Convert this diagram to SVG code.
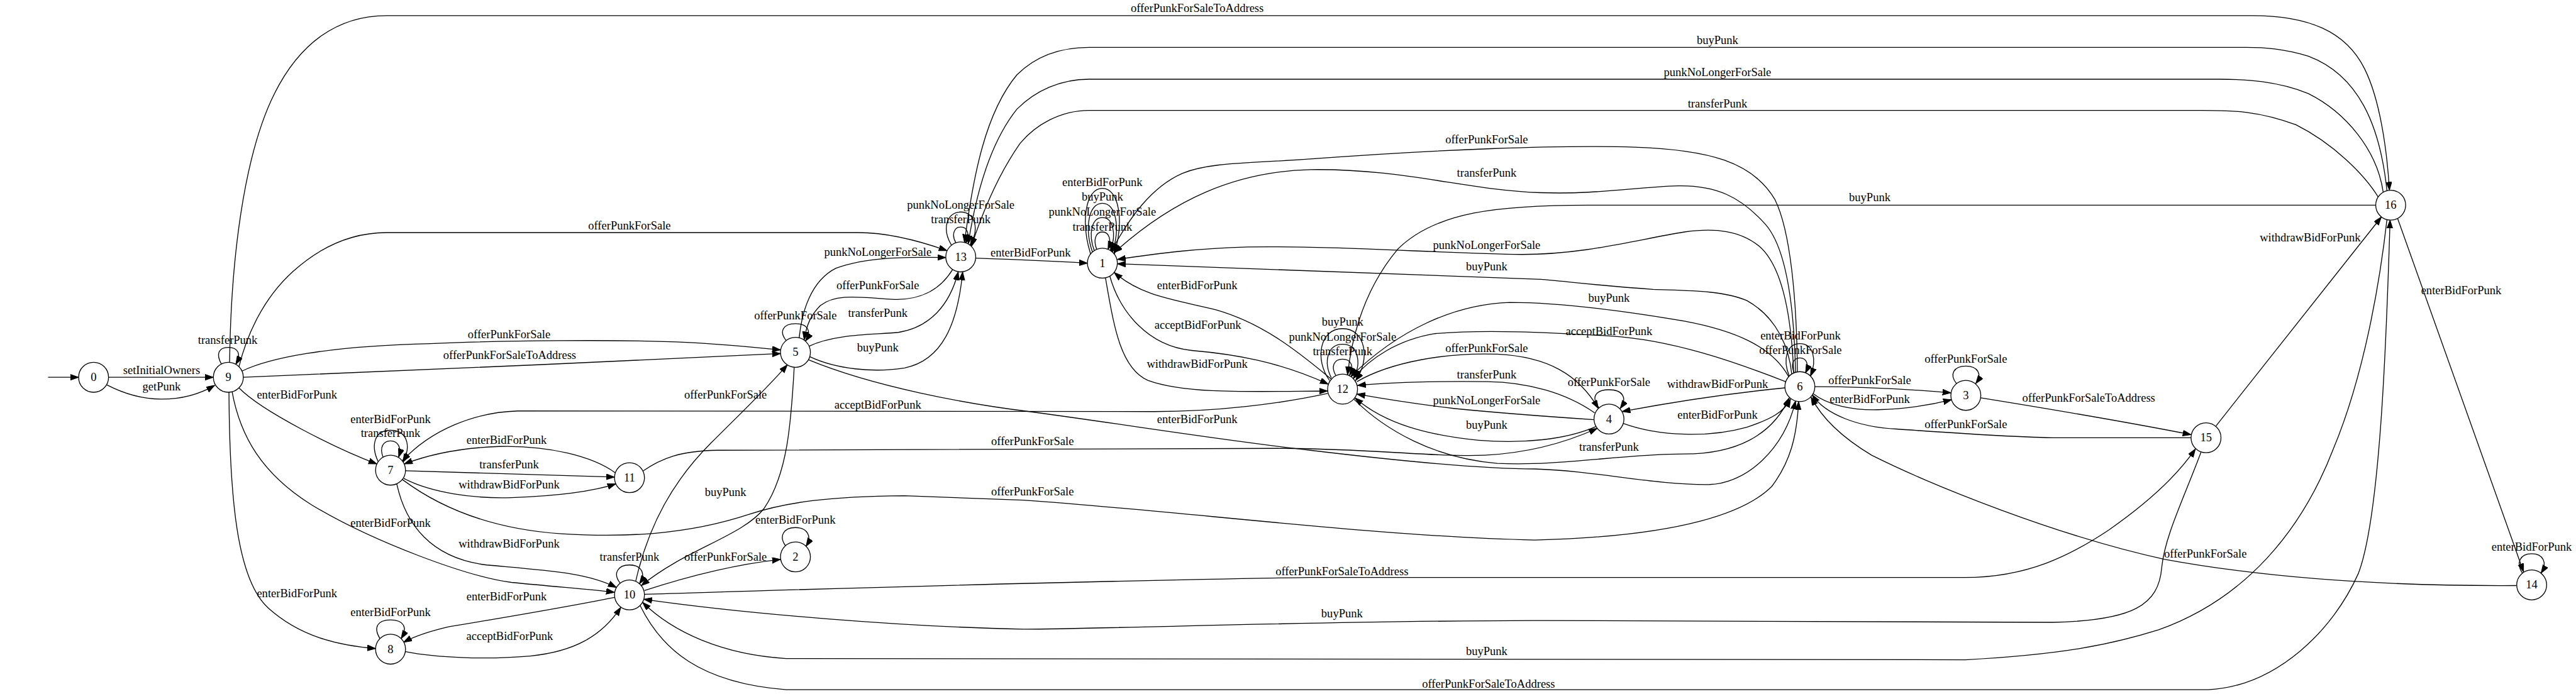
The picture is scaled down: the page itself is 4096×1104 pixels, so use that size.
<svg xmlns="http://www.w3.org/2000/svg" width="4096" height="1104" viewBox="0 0 4096 1104">
<defs>
<marker id="ah" markerWidth="15" markerHeight="11" refX="13.3" refY="4.7" orient="auto" markerUnits="userSpaceOnUse">
<path d="M0,0 L13.3,4.7 L0,9.4 z" fill="#000" stroke="#000" stroke-width="1"/>
</marker>
<style>
.e{fill:none;stroke:#000;stroke-width:1.33;marker-end:url(#ah)}
.n circle{fill:#fff;stroke:#000;stroke-width:1.33}
text{font-family:"Liberation Serif","Times New Roman",serif;font-size:18.67px;text-anchor:middle;fill:#000}
</style>
</defs>
<rect width="4096" height="1104" fill="#fff"/>
<g transform="scale(0.992)">
<g id="connectors">
<path class="e" d="M77,605 L126,605"/>
<path class="e" d="M174,605 L342,605"/><text x="259" y="600">setInitialOwners</text>
<path class="e" d="M171,617 C200,632 228,640 259,640 C290,640 320,632 344,618"/><text x="259" y="626">getPunk</text>
<path class="e" d="M355,584 C346,568 350,557 366,557 C382,557 387,568 378,584"/><text x="365" y="551">transferPunk</text>
<path class="e" d="M368,581 C370,420 390,250 440,150 C480,70 540,25 620,25 L3610,25 C3700,25 3760,50 3790,110 C3815,160 3826,240 3830,305"/><text x="1919" y="19">offerPunkForSaleToAddress</text>
<path class="e" d="M383,588 C395,540 420,480 470,435 C520,390 570,373 620,373 L1376,373 C1420,373 1470,385 1518,402"/><text x="1009" y="368">offerPunkForSale</text>
<path class="e" d="M388,595 C430,575 520,555 690,551 C800,546 1000,544 1100,549 C1160,552 1210,557 1251,561"/><text x="816" y="542">offerPunkForSale</text>
<path class="e" d="M390,605 C600,597 1000,579 1251,567"/><text x="817" y="576">offerPunkForSaleToAddress</text>
<path class="e" d="M383,622 C420,660 540,720 604,744"/><text x="476" y="639">enterBidForPunk</text>
<path class="e" d="M372,628 C385,700 420,760 500,810 C600,870 750,925 820,934 C900,942 950,945 985,950"/><text x="626" y="845">enterBidForPunk</text>
<path class="e" d="M367,629 C368,800 380,930 430,975 C480,1020 540,1035 602,1040"/><text x="476" y="958">enterBidForPunk</text>
<path class="e" d="M606,740 C594,714 600,690 626,690 C652,690 660,714 646,741"/><text x="626" y="678">enterBidForPunk</text>
<path class="e" d="M614,733 C608,718 614,707 626,707 C638,707 644,718 639,733"/><text x="626" y="701">transferPunk</text>
<path class="e" d="M986,758 C950,732 880,714 800,716 C740,718 690,728 648,744"/><text x="812" y="712">enterBidForPunk</text>
<path class="e" d="M650,755 L985,765"/><text x="816" y="751">transferPunk</text>
<path class="e" d="M647,767 C690,790 760,800 820,798 C900,795 950,788 987,776"/><text x="816" y="783">withdrawBidForPunk</text>
<path class="e" d="M2128,631 C2050,648 1950,660 1850,660 L830,659 C760,661 690,690 645,739"/><text x="1407" y="655">acceptBidForPunk</text>
<path class="e" d="M636,776 C650,840 690,895 780,906 C880,915 940,918 988,942"/><text x="816" y="878">withdrawBidForPunk</text>
<path class="e" d="M985,958 C900,975 780,995 720,1005 C690,1012 665,1020 647,1030"/><text x="812" y="963">enterBidForPunk</text>
<path class="e" d="M609,1024 C598,1006 605,994 626,994 C647,994 654,1006 643,1024"/><text x="626" y="988">enterBidForPunk</text>
<path class="e" d="M650,1045 C700,1055 780,1058 850,1052 C920,1045 965,1020 995,974"/><text x="817" y="1026">acceptBidForPunk</text>
<path class="e" d="M994,935 C982,920 990,906 1009,906 C1028,906 1036,920 1025,936"/><text x="1009" y="899">transferPunk</text>
<path class="e" d="M1019,932 C1040,840 1080,770 1140,710 C1190,660 1232,620 1262,585"/><text x="1163" y="639">offerPunkForSale</text>
<path class="e" d="M1273,589 C1268,680 1262,760 1225,815 C1190,860 1100,880 1028,939"/><text x="1163" y="795">buyPunk</text>
<path class="e" d="M1033,947 C1100,925 1180,905 1251,897"/><text x="1163" y="899">offerPunkForSale</text>
<path class="e" d="M1259,875 C1248,860 1256,846 1275,846 C1294,846 1302,860 1292,876"/><text x="1275" y="840">enterBidForPunk</text>
<path class="e" d="M1033,953 C1300,945 1700,932 2100,926 L3150,926 C3250,926 3320,890 3380,850 C3430,815 3485,770 3519,720"/><text x="2151" y="922">offerPunkForSaleToAddress</text>
<path class="e" d="M3528,725 C3500,800 3470,860 3465,910 C3460,970 3420,995 3290,998 L2460,995 C2100,996 1800,1008 1640,1009 C1450,1005 1200,985 1032,961"/><text x="2151" y="990">buyPunk</text>
<path class="e" d="M3826,352 C3815,450 3790,600 3740,720 C3690,850 3600,960 3460,1010 C3380,1035 3300,1050 3150,1058 L1260,1056 C1160,1050 1080,1015 1030,966"/><text x="2383" y="1050">buyPunk</text>
<path class="e" d="M1026,971 C1060,1040 1120,1095 1260,1106 L3540,1106 C3650,1100 3740,1010 3780,920 C3815,830 3825,550 3831,353"/><text x="2386" y="1103">offerPunkForSaleToAddress</text>
<path class="e" d="M3552,683 L3817,348"/><text x="3703" y="387">withdrawBidForPunk</text>
<path class="e" d="M3843,350 L4045,917"/><text x="3945" y="472">enterBidForPunk</text>
<path class="e" d="M4043,919 C4032,902 4040,888 4058,888 C4076,888 4084,902 4073,919"/><text x="4058" y="883">enterBidForPunk</text>
<path class="e" d="M4034,939 C3850,940 3650,930 3470,897 C3300,860 3100,780 3000,730 C2950,700 2920,670 2903,637"/><text x="3535" y="894">offerPunkForSale</text>
<path class="e" d="M3512,702 L3290,702 C3200,700 3100,692 3040,688 C2980,685 2925,665 2905,633"/><text x="3151" y="686">offerPunkForSale</text>
<path class="e" d="M3175,638 C3280,655 3400,675 3512,697"/><text x="3348" y="644">offerPunkForSaleToAddress</text>
<path class="e" d="M2909,620 C2980,620 3060,624 3127,630"/><text x="2997" y="616">offerPunkForSale</text>
<path class="e" d="M2906,631 C2930,650 2970,658 3010,657 C3060,656 3100,648 3128,641"/><text x="2997" y="646">enterBidForPunk</text>
<path class="e" d="M3136,615 C3124,600 3132,587 3151,587 C3170,587 3178,600 3167,615"/><text x="3151" y="582">offerPunkForSale</text>
<path class="e" d="M2868,603 C2857,576 2864,551 2885,551 C2906,551 2913,576 2902,603"/><text x="2886" y="544">enterBidForPunk</text>
<path class="e" d="M2876,598 C2870,585 2874,574 2885,574 C2896,574 2900,585 2894,598"/><text x="2886" y="568">offerPunkForSale</text>
<path class="e" d="M2861,622 C2780,630 2680,645 2600,660"/><text x="2753" y="622">withdrawBidForPunk</text>
<path class="e" d="M2602,679 C2660,700 2740,702 2800,685 C2840,672 2860,660 2870,640"/><text x="2753" y="671">enterBidForPunk</text>
<path class="e" d="M2563,654 C2550,637 2557,625 2579,625 C2601,625 2609,638 2597,655"/><text x="2579" y="619">offerPunkForSale</text>
<path class="e" d="M2175,612 C2230,580 2320,565 2400,568 C2480,572 2530,600 2562,655"/><text x="2383" y="565">offerPunkForSale</text>
<path class="e" d="M2556,662 C2510,630 2450,613 2384,612 C2300,611 2230,613 2176,618"/><text x="2383" y="607">transferPunk</text>
<path class="e" d="M2555,673 C2480,668 2400,662 2330,655 C2270,648 2220,640 2175,632"/><text x="2383" y="648">punkNoLongerForSale</text>
<path class="e" d="M2558,684 C2510,705 2440,712 2370,706 C2290,698 2220,680 2172,638"/><text x="2383" y="688">buyPunk</text>
<path class="e" d="M1031,755 C1060,735 1090,723 1150,722 L2060,719 C2200,720 2300,733 2380,730 C2460,726 2520,705 2560,687"/><text x="1655" y="714">offerPunkForSale</text>
<path class="e" d="M2170,640 C2220,690 2300,735 2400,743 C2500,748 2600,728 2700,728 C2780,728 2840,700 2868,638"/><text x="2579" y="723">transferPunk</text>
<path class="e" d="M645,769 C700,810 780,848 900,856 C1000,862 1100,858 1200,825 C1260,805 1330,796 1450,795 L1640,802 C1900,820 2200,860 2460,866 C2700,860 2800,820 2840,780 C2870,740 2880,700 2883,644"/><text x="1655" y="794">offerPunkForSale</text>
<path class="e" d="M1296,577 C1400,620 1550,648 1650,660 C1800,680 1950,705 2100,722 C2250,740 2380,752 2460,752 C2560,755 2650,778 2740,777 C2800,775 2860,720 2878,643"/><text x="1919" y="678">enterBidForPunk</text>
<path class="e" d="M2862,612 C2780,580 2680,545 2582,539 C2480,533 2380,528 2300,535 C2240,545 2195,575 2169,607"/><text x="2579" y="537">acceptBidForPunk</text>
<path class="e" d="M2867,604 C2840,555 2780,530 2700,515 C2600,498 2500,485 2420,485 C2330,488 2240,530 2165,604"/><text x="2579" y="484">buyPunk</text>
<path class="e" d="M3808,329 L2560,329 C2400,328 2300,340 2240,400 C2190,460 2168,530 2160,601"/><text x="2997" y="323">buyPunk</text>
<path class="e" d="M2881,596 C2880,480 2870,370 2845,320 C2810,260 2740,240 2620,236 C2500,232 2300,240 2100,255 C2000,262 1940,260 1895,278 C1845,300 1810,350 1781,403"/><text x="2383" y="230">offerPunkForSale</text>
<path class="e" d="M2878,597 C2876,500 2865,400 2830,360 C2790,315 2750,297 2690,298 C2620,300 2560,312 2470,309 C2350,305 2250,270 2100,272 C1980,275 1880,320 1786,405"/><text x="2383" y="283">transferPunk</text>
<path class="e" d="M2875,598 C2872,520 2860,430 2820,395 C2790,370 2750,365 2700,372 C2620,385 2540,408 2440,408 C2300,406 2150,394 2000,396 C1920,398 1860,406 1791,416"/><text x="2383" y="399">punkNoLongerForSale</text>
<path class="e" d="M2872,600 C2868,560 2850,510 2800,482 C2760,465 2700,466 2650,464 C2560,458 2500,450 2470,448 L1791,423"/><text x="2383" y="433">buyPunk</text>
<path class="e" d="M2141,602 C2133,588 2138,576 2152,576 C2166,576 2171,588 2163,602"/><text x="2152" y="570">transferPunk</text>
<path class="e" d="M2134,606 C2121,580 2128,552 2152,552 C2176,552 2183,580 2170,606"/><text x="2152" y="546">punkNoLongerForSale</text>
<path class="e" d="M2131,610 C2107,577 2115,527 2152,527 C2189,527 2197,577 2173,610"/><text x="2152" y="522">buyPunk</text>
<path class="e" d="M2134,608 C2090,572 2030,520 1950,497 C1880,480 1830,475 1786,437"/><text x="1919" y="464">enterBidForPunk</text>
<path class="e" d="M1779,443 C1795,500 1840,555 1910,562 C1980,568 2050,580 2129,616"/><text x="1920" y="527">acceptBidForPunk</text>
<path class="e" d="M1772,446 C1785,520 1795,590 1840,610 C1900,632 2000,628 2128,627"/><text x="1919" y="590">withdrawBidForPunk</text>
<path class="e" d="M1758,400 C1752,385 1756,372 1767,372 C1778,372 1782,385 1776,400"/><text x="1767" y="370">transferPunk</text>
<path class="e" d="M1754,402 C1744,375 1750,349 1767,349 C1784,349 1790,375 1780,402"/><text x="1767" y="346">punkNoLongerForSale</text>
<path class="e" d="M1751,404 C1738,365 1745,326 1767,326 C1789,326 1796,365 1783,404"/><text x="1767" y="322">buyPunk</text>
<path class="e" d="M1748,407 C1732,355 1740,302 1767,302 C1794,302 1802,355 1786,407"/><text x="1767" y="298">enterBidForPunk</text>
<path class="e" d="M1564,414 C1620,416 1690,419 1743,422"/><text x="1652" y="411">enterBidForPunk</text>
<path class="e" d="M1281,542 C1285,500 1300,450 1340,430 C1390,412 1450,412 1516,413"/><text x="1407" y="410">punkNoLongerForSale</text>
<path class="e" d="M1527,432 C1505,468 1470,482 1430,480 C1380,477 1340,470 1315,490 C1300,505 1293,520 1289,545"/><text x="1407" y="464">offerPunkForSale</text>
<path class="e" d="M1297,555 C1340,535 1400,537 1440,533 C1490,525 1522,490 1536,436"/><text x="1407" y="508">transferPunk</text>
<path class="e" d="M1298,572 C1340,592 1400,598 1450,590 C1510,578 1535,520 1543,436"/><text x="1407" y="564">buyPunk</text>
<path class="e" d="M1260,546 C1248,531 1256,519 1275,519 C1294,519 1302,531 1291,547"/><text x="1275" y="512">offerPunkForSale</text>
<path class="e" d="M1525,393 C1509,366 1518,340 1540,340 C1562,340 1571,366 1555,393"/><text x="1540" y="335">punkNoLongerForSale</text>
<path class="e" d="M1532,389 C1525,377 1529,364 1540,364 C1551,364 1555,377 1548,389"/><text x="1540" y="358">transferPunk</text>
<path class="e" d="M3826,306 C3815,200 3780,120 3700,90 C3660,78 3630,76 3600,76 L1746,76 C1700,76 1660,90 1630,120 C1580,180 1560,280 1546,389"/><text x="2753" y="71">buyPunk</text>
<path class="e" d="M3820,308 C3810,240 3760,180 3700,150 C3650,130 3600,127 3556,127 L1746,127 C1700,127 1660,145 1630,175 C1590,225 1566,300 1552,391"/><text x="2753" y="122">punkNoLongerForSale</text>
<path class="e" d="M3812,316 C3790,280 3740,230 3680,200 C3620,178 3580,177 3530,177 L1746,177 C1700,177 1660,200 1635,230 C1600,280 1575,340 1557,395"/><text x="2753" y="172">transferPunk</text>
</g>
<g id="n0" class="n"><circle cx="150" cy="605" r="24"/><text x="150" y="611">0</text></g>
<g id="n9" class="n"><circle cx="366" cy="605" r="24"/><text x="366" y="611">9</text></g>
<g id="n7" class="n"><circle cx="626" cy="754" r="24"/><text x="626" y="760">7</text></g>
<g id="n8" class="n"><circle cx="626" cy="1041" r="24"/><text x="626" y="1047">8</text></g>
<g id="n5" class="n"><circle cx="1275" cy="565" r="24"/><text x="1275" y="571">5</text></g>
<g id="n13" class="n"><circle cx="1540" cy="412" r="24"/><text x="1540" y="418">13</text></g>
<g id="n11" class="n"><circle cx="1009" cy="766" r="24"/><text x="1009" y="772">11</text></g>
<g id="n10" class="n"><circle cx="1009" cy="954" r="24"/><text x="1009" y="960">10</text></g>
<g id="n2" class="n"><circle cx="1275" cy="893" r="24"/><text x="1275" y="899">2</text></g>
<g id="n1" class="n"><circle cx="1767" cy="422" r="24"/><text x="1767" y="428">1</text></g>
<g id="n12" class="n"><circle cx="2152" cy="624" r="24"/><text x="2152" y="630">12</text></g>
<g id="n4" class="n"><circle cx="2579" cy="672" r="24"/><text x="2579" y="678">4</text></g>
<g id="n6" class="n"><circle cx="2885" cy="620" r="24"/><text x="2885" y="626">6</text></g>
<g id="n3" class="n"><circle cx="3151" cy="634" r="24"/><text x="3151" y="640">3</text></g>
<g id="n16" class="n"><circle cx="3832" cy="329" r="24"/><text x="3832" y="335">16</text></g>
<g id="n15" class="n"><circle cx="3536" cy="702" r="24"/><text x="3536" y="708">15</text></g>
<g id="n14" class="n"><circle cx="4058" cy="938" r="24"/><text x="4058" y="944">14</text></g>
</g>
</svg>
